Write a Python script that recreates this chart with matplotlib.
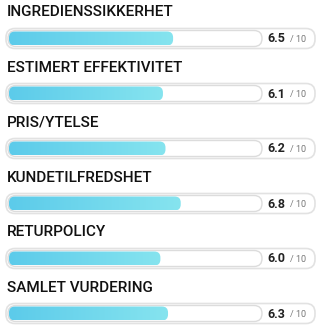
import numpy as np
import matplotlib
matplotlib.use("Agg")
import matplotlib.pyplot as plt
from matplotlib.patches import FancyBboxPatch
from matplotlib.colors import LinearSegmentedColormap

# ratings data
labels = ["INGREDIENSSIKKERHET", "ESTIMERT EFFEKTIVITET", "PRIS/YTELSE",
          "KUNDETILFREDSHET", "RETURPOLICY", "SAMLET VURDERING"]
scores = [6.5, 6.1, 6.2, 6.8, 6.0, 6.3]
max_score = 10

W, H = 321, 330
fig = plt.figure(figsize=(W / 100, H / 100), dpi=100)
ax = fig.add_axes([0, 0, 1, 1])
ax.set_xlim(0, W)
ax.set_ylim(H, 0)
ax.axis("off")

cmap = LinearSegmentedColormap.from_list("bar", ["#5ccbea", "#86e4ef"])
grad = np.linspace(0, 1, 256).reshape(1, -1)

row_h = 55
track_x0, track_x1 = 8, 262

for i, (lab, s) in enumerate(zip(labels, scores)):
    y0 = i * row_h
    ax.text(7, y0 + 12.5, lab, fontsize=11, fontfamily="Roboto", fontweight="medium",
            color="#111111", va="center", ha="left")

    # outer box
    outer = FancyBboxPatch((6, y0 + 28.5), 309, 20, boxstyle="round,pad=0,rounding_size=9",
                           fc="white", ec="#e2e2e2", lw=1.2)
    ax.add_patch(outer)
    # track
    track = FancyBboxPatch((track_x0, y0 + 30.5), track_x1 - track_x0, 16,
                           boxstyle="round,pad=0,rounding_size=8",
                           fc="white", ec="#dcdcdc", lw=1.0)
    ax.add_patch(track)
    # fill
    fx1 = track_x0 + (track_x1 - track_x0) * s / max_score
    clip = FancyBboxPatch((track_x0 + 1, y0 + 31.5), fx1 - track_x0 - 1, 14,
                          boxstyle="round,pad=0,rounding_size=6", fc="none", ec="none")
    ax.add_patch(clip)
    im = ax.imshow(grad, cmap=cmap, extent=(track_x0 + 1, fx1, y0 + 45.5, y0 + 31.5),
                   aspect="auto", zorder=2)
    im.set_clip_path(clip)

    ax.text(285, y0 + 39, f"{s:.1f}", fontsize=9, fontfamily="Roboto", fontweight="bold",
            color="#222222", va="center", ha="right")
    ax.text(290, y0 + 39.5, "/ 10", fontsize=6.5, fontfamily="Roboto",
            color="#777777", va="center", ha="left")

ax.set_xlim(0, W)
ax.set_ylim(H, 0)
fig.savefig("out.png", dpi=100)
